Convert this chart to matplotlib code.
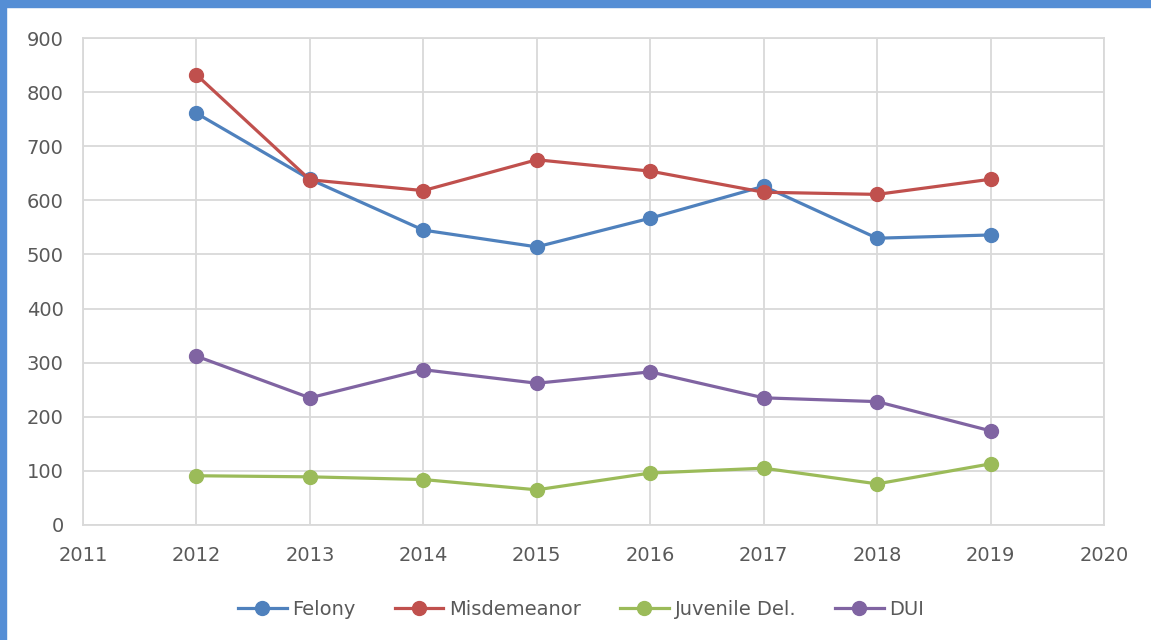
import matplotlib.pyplot as plt
from matplotlib.patches import Rectangle

years = [2012, 2013, 2014, 2015, 2016, 2017, 2018, 2019]
felony = [761, 639, 545, 514, 567, 626, 530, 536]
misdemeanor = [832, 638, 618, 675, 654, 615, 611, 639]
juvenile = [91, 89, 84, 65, 96, 105, 76, 113]
dui = [312, 235, 287, 262, 283, 235, 228, 174]

series = [
    ('Felony', felony, '#4f81bd'),
    ('Misdemeanor', misdemeanor, '#c0504d'),
    ('Juvenile Del.', juvenile, '#9bbb59'),
    ('DUI', dui, '#8064a2'),
]

fig = plt.figure(figsize=(11.51, 6.4), dpi=100)
ax = fig.add_axes([0.0721, 0.1797, 0.8871, 0.7609])

for name, vals, color in series:
    ax.plot(years, vals, color=color, lw=2.3, marker='o', ms=10, label=name)

ax.set_xlim(2011, 2020)
ax.set_ylim(0, 900)
ax.set_xticks(range(2011, 2021))
ax.set_yticks(range(0, 901, 100))
ax.grid(True, color='#d9d9d9', lw=1.3)
ax.set_axisbelow(True)
for s in ax.spines.values():
    s.set_color('#d9d9d9')
    s.set_linewidth(1.3)
ax.tick_params(length=0, labelsize=14, labelcolor='#595959')
ax.tick_params(axis='x', pad=15)
ax.tick_params(axis='y', pad=14)

fig.legend(loc='center', bbox_to_anchor=(0.505, 0.048), ncol=4, frameon=False,
           fontsize=14, labelcolor='#595959', handlelength=2.5,
           columnspacing=2.0, handletextpad=0.3)

# blue frame edges
fig.patches.append(Rectangle((0, 0.989), 1, 0.011, transform=fig.transFigure,
                             color='#558ed5', zorder=10))
fig.patches.append(Rectangle((0, 0), 0.0052, 1, transform=fig.transFigure,
                             color='#558ed5', zorder=10))

fig.savefig('out.png', dpi=100)
